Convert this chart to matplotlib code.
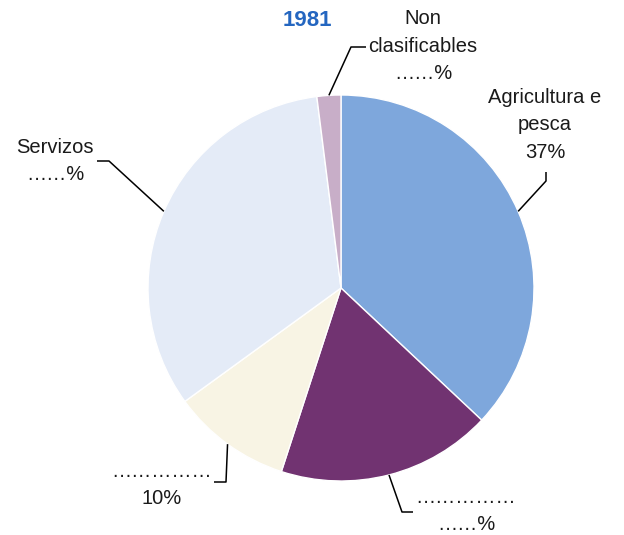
import numpy as np
import matplotlib
matplotlib.use("Agg")
import matplotlib.pyplot as plt

plt.rcParams["font.family"] = ["Liberation Sans", "DejaVu Sans"]

# employment by sector, 1981 (share of total)
sectors = ["Agricultura e pesca", "Industria", "Construción", "Servizos", "Non clasificables"]
shares = [37, 18, 10, 33, 2]
labels = [
    "Agricultura e\npesca\n37%",
    "……………\n……%",
    "……………\n10%",
    "Servizos\n……%",
    "Non\nclasificables\n……%",
]
title = "1981"

colors = ["#7EA7DC", "#713371", "#F8F4E4", "#E4EBF7", "#C8AEC8"]

W, H = 624, 535
# label text centre and leader elbow/end, in pixels from the top-left
text_pos = [(545, 125), (466, 511), (162, 485), (55, 161), (423, 46)]
leader_pts = [
    [(546, 181), (546, 172)],
    [(402, 512), (413, 512)],
    [(226, 482), (214, 482)],
    [(109, 161), (97, 161)],
    [(351, 47), (366, 47)],
]

fig = plt.figure(figsize=(W / 100, H / 100), dpi=100)
ax = fig.add_axes([0, 0, 1, 1])

cx, cy, r = 341, H - 288, 193
wedges, _ = ax.pie(
    shares, colors=colors, startangle=90, counterclock=False,
    center=(cx, cy), radius=r, frame=True,
    wedgeprops=dict(edgecolor="white", linewidth=1.0),
)
ax.set_xlim(0, W)
ax.set_ylim(0, H)
ax.set_aspect("equal")
ax.axis("off")

for w, lab, (tx, ty), pts in zip(wedges, labels, text_pos, leader_pts):
    mid = np.deg2rad((w.theta1 + w.theta2) / 2)
    x0 = cx + r * np.cos(mid)
    y0 = cy + r * np.sin(mid)
    xs = [x0] + [p[0] for p in pts]
    ys = [y0] + [H - p[1] for p in pts]
    ax.plot(xs, ys, color="black", lw=1.1, solid_capstyle="butt")
    ax.text(tx, H - ty, lab, ha="center", va="center", fontsize=14.5,
            linespacing=1.55, color="#1a1a1a")

ax.text(307, H - 20, title, ha="center", va="center", fontsize=16,
        fontweight="bold", color="#2466C0")

fig.savefig("out.png", dpi=100)
